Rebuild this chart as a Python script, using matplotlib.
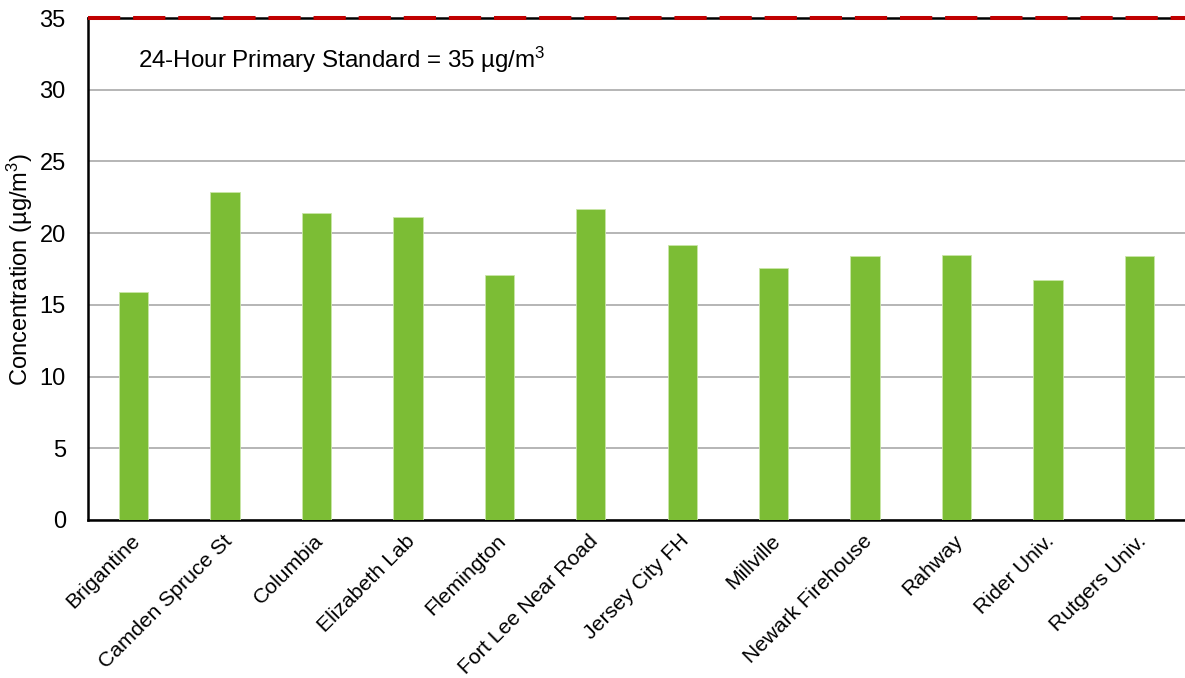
import matplotlib
matplotlib.use("Agg")
import matplotlib.pyplot as plt
import matplotlib.transforms as mtransforms
import numpy as np

plt.rcParams['font.family'] = ['Liberation Sans', 'DejaVu Sans']
plt.rcParams['mathtext.fontset'] = 'custom'
plt.rcParams['mathtext.rm'] = 'Liberation Sans'
plt.rcParams['mathtext.it'] = 'Liberation Sans'
plt.rcParams['mathtext.default'] = 'regular'

sites = ["Brigantine", "Camden Spruce St", "Columbia", "Elizabeth Lab", "Flemington",
         "Fort Lee Near Road", "Jersey City FH", "Millville", "Newark Firehouse",
         "Rahway", "Rider Univ.", "Rutgers Univ."]
concentration = [15.9, 22.9, 21.4, 21.1, 17.1, 21.7, 19.2, 17.6, 18.4, 18.5, 16.7, 18.4]
y_ticks = [0, 5, 10, 15, 20, 25, 30, 35]
standard = 35

fig = plt.figure(figsize=(11.85, 6.78), dpi=100)
ax = fig.add_axes([88 / 1185, 1 - 520 / 678, 1 - 88 / 1185, (520 - 18) / 678])

x = np.arange(len(sites))
ax.bar(x, concentration, width=0.32, color="#7cbd35", edgecolor="#c9e6a8",
       linewidth=0.6, zorder=3)

ax.set_xlim(-0.5, len(sites) - 0.5)
ax.set_ylim(0, 35)
ax.set_yticks(y_ticks)
ax.yaxis.grid(True, color="#b0b0b0", linewidth=1.3, zorder=0)
ax.set_axisbelow(True)

ax.spines["right"].set_visible(False)
for s in ["left", "bottom", "top"]:
    ax.spines[s].set_color("black")
    ax.spines[s].set_linewidth(1.8)

# 24-hour primary standard line
ax.axhline(standard, color="#c00000", linewidth=2.9, dashes=(8, 3.2),
           zorder=5, clip_on=False)

ax.tick_params(axis="both", length=0)
ax.tick_params(axis="y", pad=16, labelsize=17)
ax.set_xticks(x)
ax.set_xticklabels(sites, rotation=45, ha="right", va="top",
                   rotation_mode="anchor", fontsize=15.3)
ax.tick_params(axis="x", pad=8)
shift = mtransforms.ScaledTranslation(-3 / 100, 0, fig.dpi_scale_trans)
for lbl in ax.get_xticklabels():
    lbl.set_transform(lbl.get_transform() + shift)

ax.set_ylabel("Concentration (µg/m$^3$)", fontsize=17, labelpad=3)

ax.text(0.046, 32.1, "24-Hour Primary Standard = 35 µg/m$^3$",
        transform=mtransforms.blended_transform_factory(ax.transAxes, ax.transData),
        fontsize=17.4, va="center", ha="left")

fig.savefig("out.png", dpi=100)
